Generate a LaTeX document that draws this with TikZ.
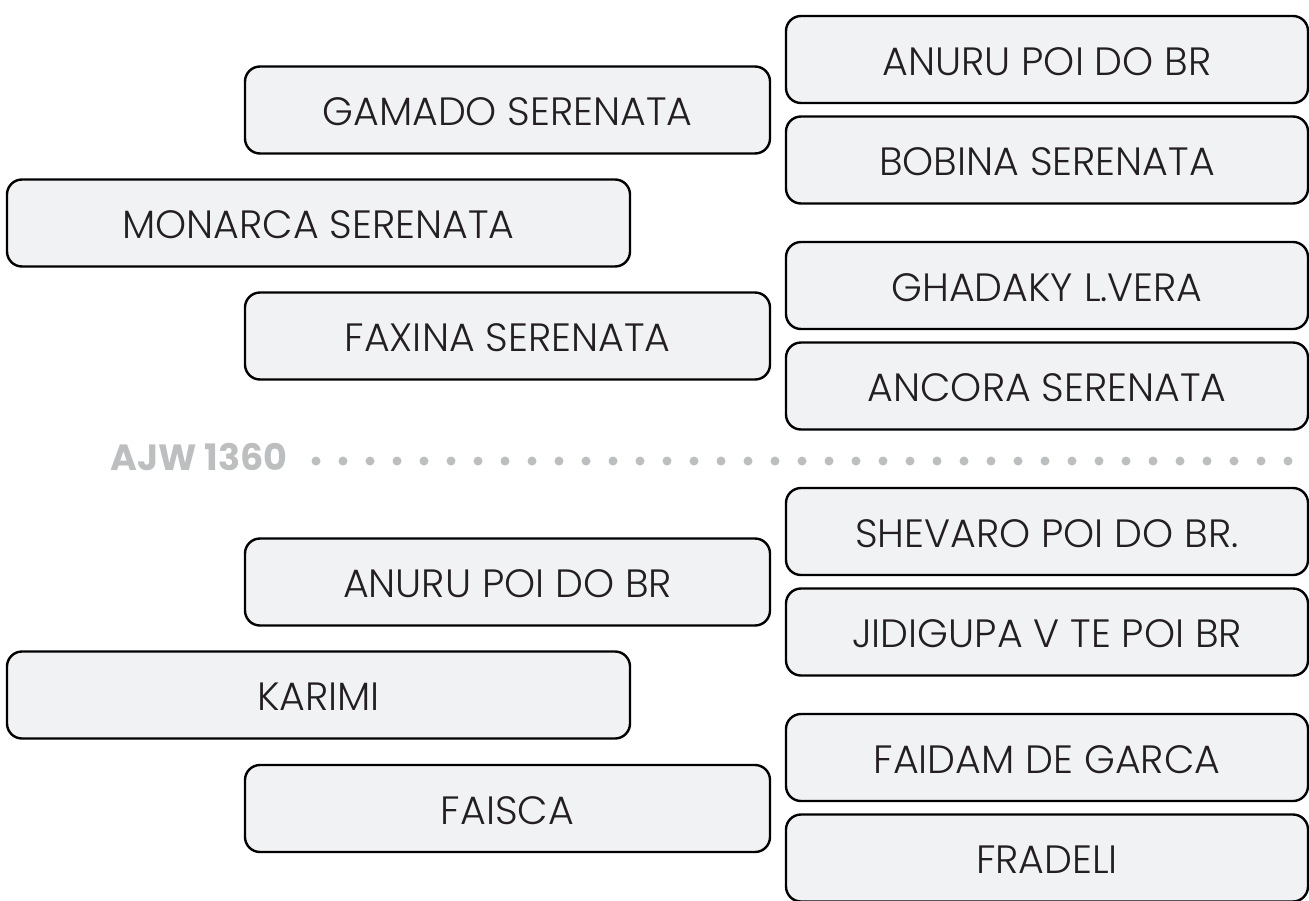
\documentclass[tikz,border=0pt]{standalone}
\usepackage{fontspec}
\setmainfont{Poppins}
\IfFontExistsTF{Poppins Light}{\newfontfamily\boxfont{Poppins Light}}{\newfontfamily\boxfont{Poppins}}
\definecolor{boxfill}{HTML}{F1F2F4}
\definecolor{ink}{HTML}{231F20}
\definecolor{dotgray}{HTML}{BCBEC0}
\begin{document}
\begin{tikzpicture}[x=1pt,y=-1pt,
  entry/.style={draw=black, line width=2.4pt, fill=boxfill, rounded corners=15pt,
    minimum height=87pt, text=ink, font=\boxfont\fontsize{39.5}{39.5}\selectfont,
    text height=31pt, text depth=0pt, inner sep=0pt},
  rbox/.style={entry, minimum width=522pt},
  lbox/.style={entry, minimum width=525pt},
  wbox/.style={entry, minimum width=623pt},
  divlabel/.style={text=dotgray, font=\fontsize{36.5}{36.5}\selectfont\bfseries, inner sep=0pt, anchor=base west}
]
\useasboundingbox (0,0) rectangle (1309,900);
% top group
\node[rbox] (r1) at (1047,59.5) {ANURU POI DO BR};
\node[rbox] (r2) at (1047,160) {BOBINA SERENATA};
\node[rbox] (r3) at (1047,285.5) {GHADAKY L.VERA};
\node[rbox] (r4) at (1047,386) {ANCORA SERENATA};
\node[lbox] (l1) at (507.5,110) {GAMADO SERENATA};
\node[wbox] (w1) at (318.5,223) {MONARCA SERENATA};
\node[lbox] (l2) at (507.5,336) {FAXINA SERENATA};
% divider
\node[divlabel] (div) at (110,470) {AJW 1360};
\foreach \i in {0,...,36} {
  \fill[dotgray] (316+27*\i,461) circle (4.5pt);
}
% bottom group
\node[rbox] (r5) at (1047,531.5) {SHEVARO POI DO BR.};
\node[rbox] (r6) at (1047,632) {JIDIGUPA V TE POI BR};
\node[rbox] (r7) at (1047,757.5) {FAIDAM DE GARCA};
\node[rbox] (r8) at (1047,858) {FRADELI};
\node[lbox] (l3) at (507.5,582) {ANURU POI DO BR};
\node[wbox] (w2) at (318.5,695) {KARIMI};
\node[lbox] (l4) at (507.5,808.5) {FAISCA};
\end{tikzpicture}
\end{document}
